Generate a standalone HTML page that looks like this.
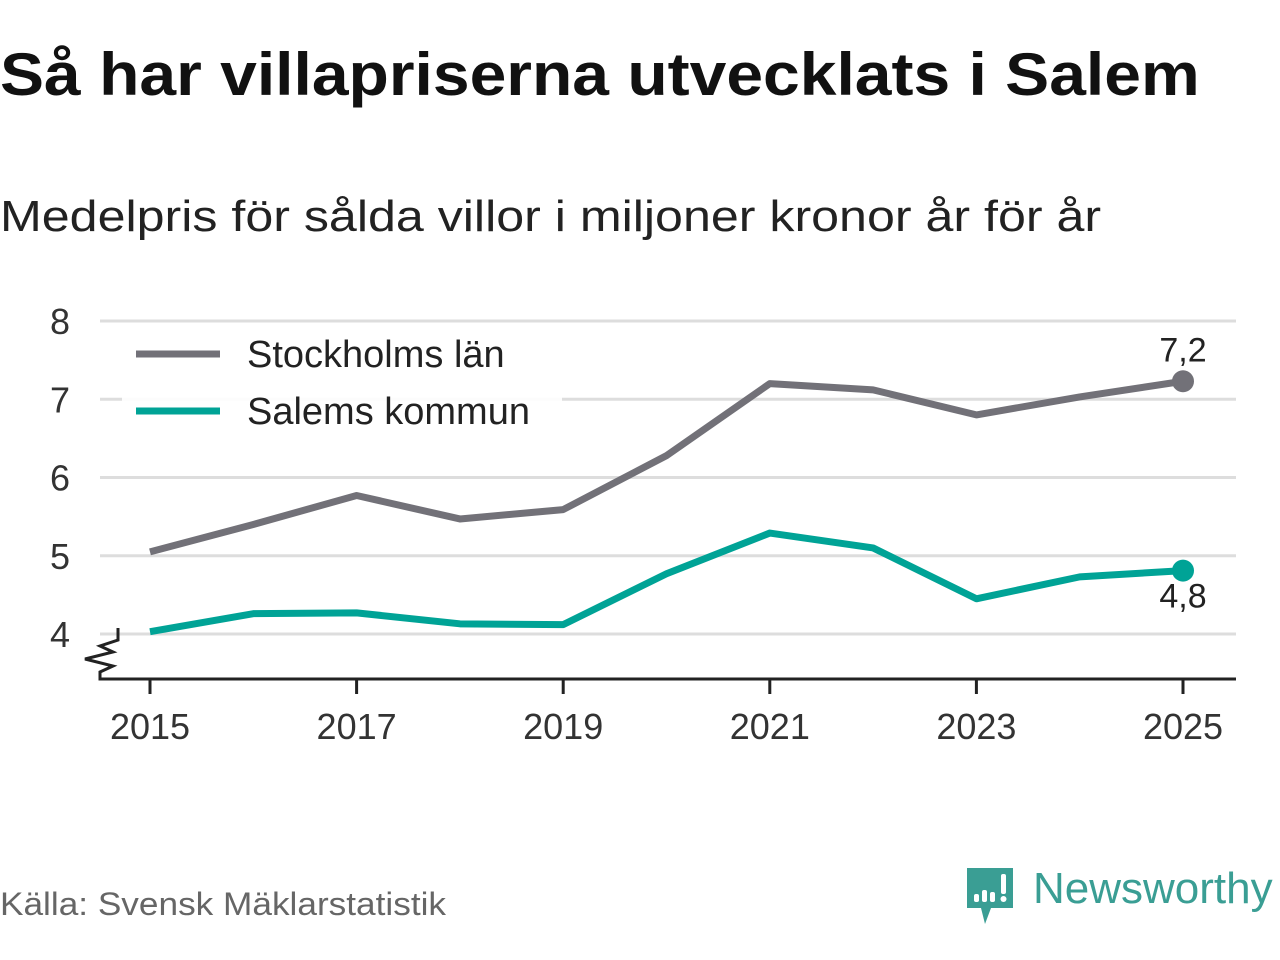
<!DOCTYPE html>
<html><head><meta charset="utf-8">
<style>
body{margin:0;width:1280px;height:960px;background:#fff;font-family:"Liberation Sans","DejaVu Sans",sans-serif;overflow:hidden;position:relative}
h1{position:absolute;left:0;top:40px;margin:0;font-size:60px;font-weight:bold;color:#111;transform-origin:0 0;transform:scaleX(1.1);white-space:nowrap}
.sub{position:absolute;left:0;top:192px;font-size:44px;color:#222;transform-origin:0 0;transform:scaleX(1.14);white-space:nowrap}
.src{position:absolute;left:0;top:886px;font-size:32px;color:#666;transform-origin:0 0;transform:scaleX(1.1);white-space:nowrap}
</style></head><body>
<h1>Så har villapriserna utvecklats i Salem</h1>
<div class="sub">Medelpris för sålda villor i miljoner kronor år för år</div>
<svg id="chart" width="1280" height="960" style="position:absolute;left:0;top:0" xmlns="http://www.w3.org/2000/svg"></svg>
<div class="src">Källa: Svensk Mäklarstatistik</div>
<div style="position:absolute;left:965px;top:866px">
<svg width="52" height="62" viewBox="0 0 52 62"><path d="M2 2h46v40H26l-6 16-4-16H2z" fill="#3a9e94"/><rect x="9" y="28" width="5" height="8" rx="2" fill="#fff"/><rect x="17" y="24" width="5" height="12" rx="2" fill="#fff"/><rect x="25" y="26" width="5" height="10" rx="2" fill="#fff"/><rect x="36" y="8" width="5" height="20" rx="2" fill="#fff"/><circle cx="38.5" cy="33" r="3" fill="#fff"/></svg>
<span style="position:absolute;left:68px;top:-2px;font-size:44px;color:#3a9e94;white-space:nowrap">Newsworthy</span>
</div>
<script>
const years=[2015,2016,2017,2018,2019,2020,2021,2022,2023,2024,2025];
const sthlm=[5.05,5.4,5.77,5.47,5.59,6.28,7.2,7.12,6.8,7.03,7.23];
const salem=[4.03,4.26,4.27,4.13,4.12,4.77,5.29,5.1,4.45,4.73,4.81];
const yTicks=[4,5,6,7,8];
const xTicks=[2015,2017,2019,2021,2023,2025];
const NS="http://www.w3.org/2000/svg";
const svg=document.getElementById('chart');
const x=v=>150+(v-2015)*103.3;
const y=v=>634-(v-4)*78.25;
function mk(t,a){const e=document.createElementNS(NS,t);for(const k in a)e.setAttribute(k,a[k]);svg.appendChild(e);return e;}
yTicks.forEach(t=>{
 const g=mk('line',{x1:100,x2:1236,y1:y(t),y2:y(t),stroke:'#ddd','stroke-width':3});
 
 
 const l=mk('text',{x:70,y:y(t)+13,'text-anchor':'end','font-size':36,fill:'#333'});l.textContent=t;
 
 
});
const ax=mk('path',{d:'M118 628 V640 L100 646 L113 652 L85 659 L113 666 L100 672 V679 H1236',fill:'none',stroke:'#222','stroke-width':3});


xTicks.forEach(t=>{
 mk('line',{x1:x(t),x2:x(t),y1:679,y2:694,stroke:'#222','stroke-width':3});
 const l=mk('text',{x:x(t),y:739,'text-anchor':'middle','font-size':36,fill:'#333'});l.textContent=t;
 
 
});
mk('rect',{x:122,y:325,width:440,height:110,fill:'#fff',opacity:0.9});
function series(vals,color,name,dy){
 const p=mk('polyline',{points:vals.map((v,i)=>x(years[i])+','+y(v)).join(' '),fill:'none',stroke:color,'stroke-width':7,'stroke-linejoin':'round'});
 
 
 const n=vals.length-1;
 const c=mk('circle',{cx:x(years[n]),cy:y(vals[n]),r:11,fill:color});
 
 
 const t=mk('text',{x:x(years[n]),y:y(vals[n])+dy,'text-anchor':'middle','font-size':34,fill:'#222'});
 t.textContent=vals[n].toFixed(1).replace('.',',');
 
 
}
series(sthlm,'#727178','stockholm',-20);
series(salem,'#00a396','salem',37);
[['Stockholms län','#727178',354],['Salems kommun','#00a396',411]].forEach(([n,c,yy])=>{
 const l=mk('line',{x1:136,x2:220,y1:yy,y2:yy,stroke:c,'stroke-width':7});
 
 
 const t=mk('text',{x:247,y:yy+13,'font-size':38,fill:'#222'});t.textContent=n;
 
 
});
</script>
</body></html>
